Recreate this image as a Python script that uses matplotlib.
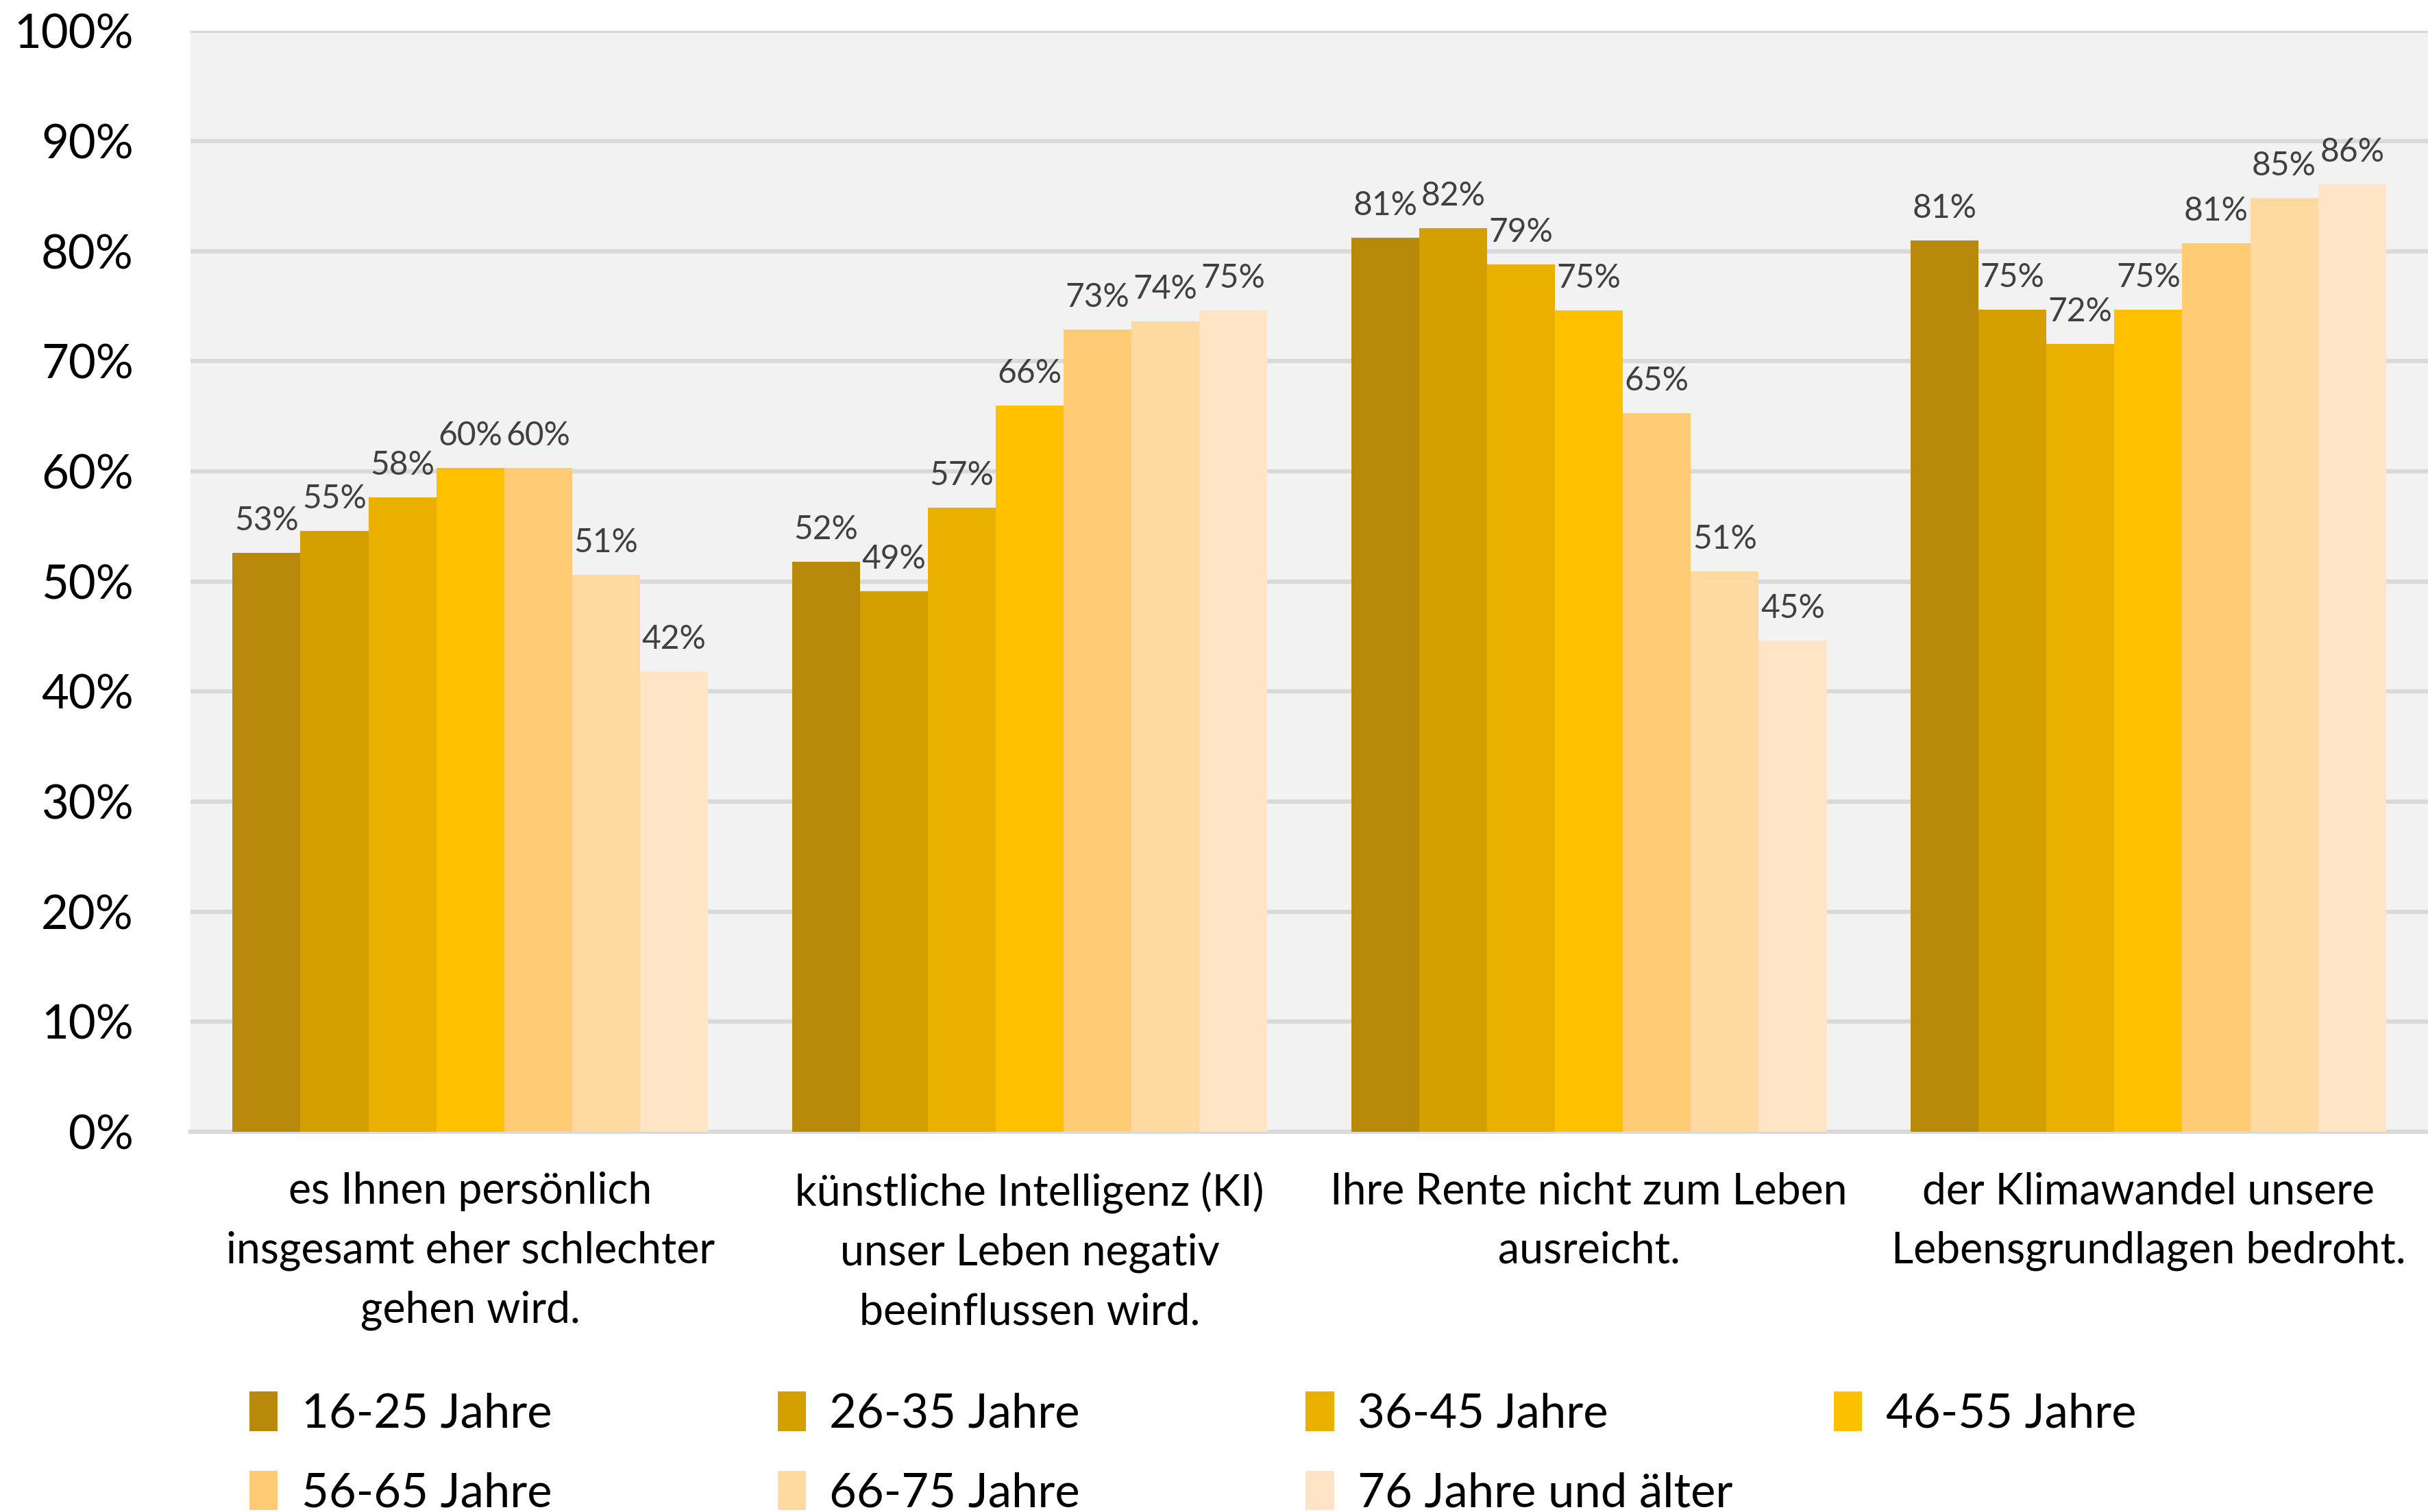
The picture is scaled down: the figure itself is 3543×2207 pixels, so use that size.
import matplotlib.pyplot as plt
import matplotlib
import numpy as np

matplotlib.rcParams['font.family'] = ['Lato', 'DejaVu Sans']
matplotlib.rcParams['axes.unicode_minus'] = False

# Kategorien (x-Achse)
categories = ['es Ihnen persönlich\ninsgesamt eher schlechter\ngehen wird.',
              'künstliche Intelligenz (KI)\nunser Leben negativ\nbeeinflussen wird.',
              'Ihre Rente nicht zum Leben\nausreicht.',
              'der Klimawandel unsere\nLebensgrundlagen bedroht.']

age_groups = ['16-25 Jahre', '26-35 Jahre', '36-45 Jahre', '46-55 Jahre',
              '56-65 Jahre', '66-75 Jahre', '76 Jahre und älter']

# Werte in %, je Altersgruppe (über die 4 Kategorien)
v_16_25 = [52.6, 51.8, 81.2, 81.0]
v_26_35 = [54.6, 49.1, 82.1, 74.7]
v_36_45 = [57.6, 56.7, 78.8, 71.6]
v_46_55 = [60.3, 66.0, 74.6, 74.7]
v_56_65 = [60.3, 72.9, 65.3, 80.7]
v_66_75 = [50.6, 73.6, 50.9, 84.8]
v_76_plus = [41.8, 74.6, 44.6, 86.1]
series = [v_16_25, v_26_35, v_36_45, v_46_55, v_56_65, v_66_75, v_76_plus]

colors = ['#B8890A', '#D4A000', '#E9B000', '#FFC000', '#FFCC75', '#FFD9A0', '#FFE4C6']

fig = plt.figure(figsize=(3543 / 300, 2207 / 300), dpi=300)
ax = fig.add_axes([0.0785, 0.2515, 0.9215, 0.728])
ax.set_facecolor('#f2f2f2')

x = np.arange(len(categories))
n = len(series)
group_w = 0.85
w = group_w / n

bars = []
for i, vals in enumerate(series):
    pos = x - group_w / 2 + w * (i + 0.5)
    b = ax.bar(pos, vals, width=w, color=colors[i], label=age_groups[i], zorder=3)
    ax.bar_label(b, labels=[f'{round(v):d}%' for v in vals], padding=6,
                 fontsize=11.5, color='#404040')
    bars.append(b)

ax.set_xlim(-0.5, len(categories) - 0.5)
ax.set_ylim(0, 100)
ax.set_yticks(np.arange(0, 101, 10))
ax.set_yticklabels([f'{t}%' for t in range(0, 101, 10)], fontsize=16.5)
ax.set_xticks(x)
ax.set_xticklabels(categories, fontsize=15, linespacing=1.6)
ax.tick_params(axis='both', length=0)
ax.tick_params(axis='y', pad=20)
ax.tick_params(axis='x', pad=14)

ax.grid(axis='y', color='#d9d9d9', linewidth=1.5, zorder=0)
for s in ['top', 'right', 'left']:
    ax.spines[s].set_visible(False)
ax.spines['bottom'].set_color('#d9d9d9')
ax.spines['bottom'].set_linewidth(1.5)

# Legende: 4 Spalten, gleichmäßig verteilt
col_x = [0.095, 0.3125, 0.53, 0.7475]
for j in range(4):
    idx = [k for k in (j, j + 4) if k < n]
    fig.legend([bars[k] for k in idx], [age_groups[k] for k in idx],
               loc='upper left', bbox_to_anchor=(col_x[j], 0.092),
               frameon=False, fontsize=16.5, handlelength=0.6, handleheight=0.9,
               handletextpad=0.5, labelspacing=0.75, borderaxespad=0)

fig.savefig('out.png', dpi=300, facecolor='white')
